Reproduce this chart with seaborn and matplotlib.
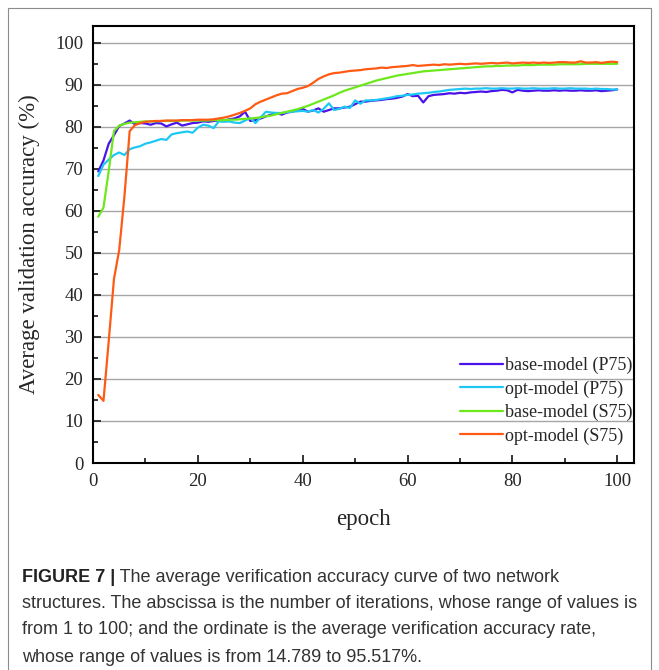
import numpy as np
import pandas as pd
import seaborn as sns
import matplotlib.pyplot as plt
from matplotlib.lines import Line2D
from matplotlib.ticker import MultipleLocator

# values, epochs 1..100
epochs = list(range(1, 101))

base_p75 = [69.4, 72.0, 76.0, 78.0, 80.2, 80.8, 81.5, 80.6, 80.9, 80.8,
            80.5, 80.9, 80.8, 80.1, 80.6, 81.0, 80.3, 80.6, 80.9, 81.0,
            81.3, 81.2, 81.4, 81.5, 81.5, 81.8, 82.0, 82.5, 83.6, 81.4,
            81.6, 82.0, 82.5, 82.9, 83.3, 82.9, 83.4, 83.6, 84.0, 84.3,
            83.6, 83.9, 84.4, 83.6, 84.0, 84.4, 84.4, 84.6, 84.8, 85.4,
            86.0, 86.0, 86.2, 86.3, 86.4, 86.6, 86.7, 86.9, 87.2, 87.8,
            87.3, 87.4, 85.8, 87.3, 87.6, 87.7, 87.8, 88.0, 87.9, 88.1,
            88.0, 88.2, 88.3, 88.4, 88.3, 88.5, 88.6, 88.8, 88.7, 88.2,
            88.8, 88.6, 88.5, 88.6, 88.7, 88.6, 88.6, 88.7, 88.6, 88.7,
            88.6, 88.6, 88.7, 88.6, 88.6, 88.7, 88.5, 88.6, 88.7, 88.9]

opt_p75 = [68.3, 71.0, 72.2, 73.3, 73.9, 73.3, 74.7, 75.1, 75.4, 76.0,
           76.3, 76.7, 77.1, 76.9, 78.2, 78.5, 78.7, 78.9, 78.6, 79.8,
           80.5, 80.3, 79.7, 81.3, 81.2, 81.3, 81.0, 80.9, 81.5, 82.1,
           80.9, 82.3, 83.6, 83.4, 83.3, 83.3, 83.5, 83.6, 83.7, 83.8,
           83.6, 84.0, 83.4, 84.3, 85.6, 84.0, 84.3, 84.8, 84.5, 86.3,
           85.5, 86.3, 86.3, 86.4, 86.6, 86.8, 87.0, 87.3, 87.4, 87.6,
           87.7, 87.9, 88.0, 88.1, 88.3, 88.4, 88.6, 88.8, 88.9, 89.0,
           89.1, 89.0, 89.1, 89.1, 89.2, 89.1, 89.1, 89.2, 89.1, 89.1,
           89.2, 89.1, 89.1, 89.2, 89.1, 89.1, 89.1, 89.2, 89.1, 89.1,
           89.2, 89.1, 89.1, 89.1, 89.0, 89.1, 89.0, 89.0, 88.9, 88.9]

base_s75 = [58.6, 60.8, 69.5, 79.0, 80.3, 80.7, 81.0, 81.1, 81.2, 81.3,
            81.3, 81.3, 81.4, 81.4, 81.4, 81.4, 81.5, 81.5, 81.5, 81.5,
            81.5, 81.5, 81.6, 81.6, 81.6, 81.7, 81.7, 81.8, 81.9, 82.0,
            82.1, 82.3, 82.5, 82.7, 83.0, 83.3, 83.6, 83.9, 84.2, 84.6,
            85.0, 85.5, 86.0, 86.5, 87.0, 87.5, 88.1, 88.6, 89.0, 89.4,
            89.8, 90.2, 90.6, 91.0, 91.3, 91.6, 91.9, 92.2, 92.4, 92.6,
            92.8, 93.0, 93.2, 93.3, 93.4, 93.5, 93.6, 93.7, 93.8, 93.9,
            94.0, 94.1, 94.2, 94.3, 94.4, 94.4, 94.5, 94.5, 94.6, 94.6,
            94.6, 94.7, 94.7, 94.7, 94.8, 94.8, 94.8, 94.8, 94.9, 94.9,
            94.9, 94.9, 94.9, 95.0, 95.0, 95.0, 95.0, 95.0, 95.0, 95.0]

opt_s75 = [16.2, 14.8, 29.0, 43.8, 50.7, 63.5, 79.0, 80.4, 80.9, 81.2,
           81.3, 81.4, 81.4, 81.5, 81.5, 81.5, 81.6, 81.6, 81.6, 81.7,
           81.7, 81.7, 81.8, 82.0, 82.2, 82.5, 82.9, 83.3, 83.8, 84.4,
           85.4, 86.0, 86.5, 87.0, 87.5, 87.9, 88.0, 88.5, 89.0, 89.3,
           89.7, 90.5, 91.4, 92.0, 92.5, 92.8, 92.9, 93.1, 93.3, 93.4,
           93.5, 93.7, 93.8, 93.9, 94.1, 94.0, 94.2, 94.3, 94.4, 94.5,
           94.7, 94.5, 94.6, 94.7, 94.8, 94.7, 94.9, 94.8, 94.9, 95.0,
           94.9, 95.0, 95.1, 95.0, 95.1, 95.2, 95.1, 95.2, 95.3, 95.1,
           95.2, 95.3, 95.2, 95.3, 95.2, 95.3, 95.2, 95.3, 95.4, 95.4,
           95.3, 95.3, 95.6, 95.3, 95.3, 95.4, 95.2, 95.4, 95.5, 95.4]

labels = ["base-model (P75)", "opt-model (P75)", "base-model (S75)", "opt-model (S75)"]
colors = ["#4a12e8", "#1ec8f5", "#6ce81c", "#ff5a14"]

caption_bold = "FIGURE 7 |"
caption_lines = [
    " The average verification accuracy curve of two network",
    "structures. The abscissa is the number of iterations, whose range of values is",
    "from 1 to 100; and the ordinate is the average verification accuracy rate,",
    "whose range of values is from 14.789 to 95.517%.",
]

df = pd.concat([
    pd.DataFrame({"epoch": epochs, "acc": vals, "model": lab})
    for vals, lab in zip([base_p75, opt_p75, base_s75, opt_s75], labels)
])

sns.set_style("white")
plt.rcParams["font.family"] = ["Liberation Serif", "DejaVu Serif"]

W, H = 659, 670
fig = plt.figure(figsize=(W / 100, H / 100), dpi=100)
ax = fig.add_axes([93 / W, 1 - 463 / H, (634 - 93) / W, (463 - 26) / H])

sns.lineplot(data=df, x="epoch", y="acc", hue="model", palette=colors,
             hue_order=labels, linewidth=1.6, ax=ax, legend=False)

ax.set_xlim(0, 103.2)
ax.set_ylim(0, 104)
ax.xaxis.set_major_locator(MultipleLocator(20))
ax.xaxis.set_minor_locator(MultipleLocator(10))
ax.yaxis.set_major_locator(MultipleLocator(10))
ax.yaxis.set_minor_locator(MultipleLocator(5))
ax.grid(axis="y", which="major", color="#a6a6a6", linewidth=1.0)
ax.set_axisbelow(True)
ax.tick_params(which="major", direction="in", length=6, width=1.3,
               labelsize=13.5, pad=7, right=False, top=False, left=True, bottom=True)
ax.tick_params(which="minor", direction="in", length=3.5, width=1.3,
               right=False, top=False, left=True, bottom=True)
for s in ax.spines.values():
    s.set_color("black")
    s.set_linewidth(1.5)

ax.set_xlabel("epoch", fontsize=16.5)
ax.set_ylabel("Average validation accuracy (%)", fontsize=16.5)
ax.xaxis.set_label_coords(0.5, -0.105)
ax.yaxis.set_label_coords(-0.098, 0.5)

handles = [Line2D([], [], color=c, linewidth=1.6) for c in colors]
ax.legend(handles, labels, loc="lower right", bbox_to_anchor=(1.01, 0.025),
          frameon=False, fontsize=13, handlelength=2.4, handletextpad=0.1,
          labelspacing=0.35, borderaxespad=0.0)

# outer frame around figure panel
for xs, ys in [([8, 8], [8, H]), ([8, 651], [8, 8]), ([651, 651], [8, H])]:
    fig.add_artist(Line2D([x / W for x in xs], [1 - y / H for y in ys],
                          color="#8c8c8c", linewidth=0.8))

cap_font = ["Liberation Sans", "DejaVu Sans"]
cap_size = 13
line_y = [577, 604, 630, 657]
t0 = fig.text(22 / W, 1 - line_y[0] / H, caption_bold, fontsize=cap_size,
              fontweight="bold", family=cap_font, va="center", color="#222222")
fig.canvas.draw()
bb = t0.get_window_extent(renderer=fig.canvas.get_renderer())
fig.text(bb.x1 / W, 1 - line_y[0] / H, caption_lines[0], fontsize=cap_size,
         family=cap_font, va="center", color="#333333")
for ln, yy in zip(caption_lines[1:], line_y[1:]):
    fig.text(22 / W, 1 - yy / H, ln, fontsize=cap_size, family=cap_font,
             va="center", color="#333333")

fig.savefig("out.png", dpi=100)
